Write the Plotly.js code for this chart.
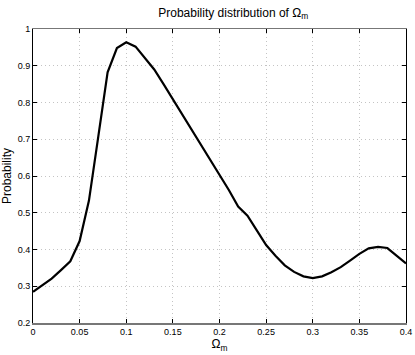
<!DOCTYPE html>
<html>
<head>
<meta charset="utf-8">
<script src="https://cdn.plot.ly/plotly-3.0.1.min.js"></script>
<style>
  html, body { margin: 0; padding: 0; background: #fff; }
  #chart { width: 415px; height: 355px; }
</style>
</head>
<body>
<div id="chart"></div>
<script>
// Omega_m grid and probability values
const omegaM = [0, 0.01, 0.02, 0.03, 0.04, 0.05, 0.06, 0.07, 0.08, 0.09,
                0.10, 0.11, 0.12, 0.13, 0.14, 0.15, 0.16, 0.17, 0.18, 0.19,
                0.20, 0.21, 0.22, 0.23, 0.24, 0.25, 0.26, 0.27, 0.28, 0.29,
                0.30, 0.31, 0.32, 0.33, 0.34, 0.35, 0.36, 0.37, 0.38, 0.39, 0.40];
const probability = [0.285, 0.303, 0.321, 0.344, 0.368, 0.423, 0.533, 0.707, 0.882, 0.948,
                     0.964, 0.952, 0.922, 0.890, 0.850, 0.809, 0.768, 0.727, 0.686, 0.644,
                     0.605, 0.562, 0.517, 0.492, 0.452, 0.412, 0.383, 0.357, 0.339, 0.327,
                     0.322, 0.327, 0.338, 0.352, 0.370, 0.388, 0.403, 0.407, 0.404, 0.384, 0.362];

const xTicks = [0, 0.05, 0.1, 0.15, 0.2, 0.25, 0.3, 0.35, 0.4];
const xTickText = ['0', '0.05', '0.1', '0.15', '0.2', '0.25', '0.3', '0.35', '0.4'];
const yTicks = [0.2, 0.3, 0.4, 0.5, 0.6, 0.7, 0.8, 0.9, 1];
const yTickText = ['0.2', '0.3', '0.4', '0.5', '0.6', '0.7', '0.8', '0.9', '1'];

const FONT = 'Liberation Sans, Arial, Helvetica, sans-serif';
const GRID = '#c4c4c4';

const trace = {
    x: omegaM,
    y: probability,
    type: 'scatter',
    mode: 'lines',
    line: { color: '#000', width: 2.2 },
    hoverinfo: 'skip',
};

const axisBase = {
    showgrid: true,
    gridcolor: GRID,
    griddash: '1px,3px',
    gridwidth: 1,
    zeroline: false,
    ticks: 'inside',
    ticklen: 4,
    tickcolor: '#000',
    showline: true,
    mirror: 'ticks',
    tickfont: { family: FONT, size: 9, color: '#000' },
};

const layout = {
    width: 415,
    height: 355,
    paper_bgcolor: '#fff',
    plot_bgcolor: '#fff',
    margin: { t: 29, r: 9, b: 32, l: 33 },
    showlegend: false,
    font: { family: FONT, color: '#000' },
    title: {
        text: 'Probability distribution of Ω<sub>m</sub>',
        font: { family: FONT, size: 12, color: '#000' },
        x: 0.562, xanchor: 'center',
        y: 0.965, yanchor: 'middle',
    },
    xaxis: {
        ...axisBase,
        range: [0, 0.4],
        tickvals: xTicks,
        ticktext: xTickText,
        linecolor: '#777',
        linewidth: 1.5,
        title: { text: 'Ω<sub>m</sub>', font: { family: FONT, size: 12 }, standoff: 2 },
    },
    yaxis: {
        ...axisBase,
        range: [0.2, 1],
        tickvals: yTicks,
        ticktext: yTickText,
        linecolor: '#000',
        linewidth: 1,
        title: { text: 'Probability', font: { family: FONT, size: 12 }, standoff: 3 },
    },
};

Plotly.newPlot('chart', [trace], layout, { displayModeBar: false, staticPlot: true });
</script>
</body>
</html>
